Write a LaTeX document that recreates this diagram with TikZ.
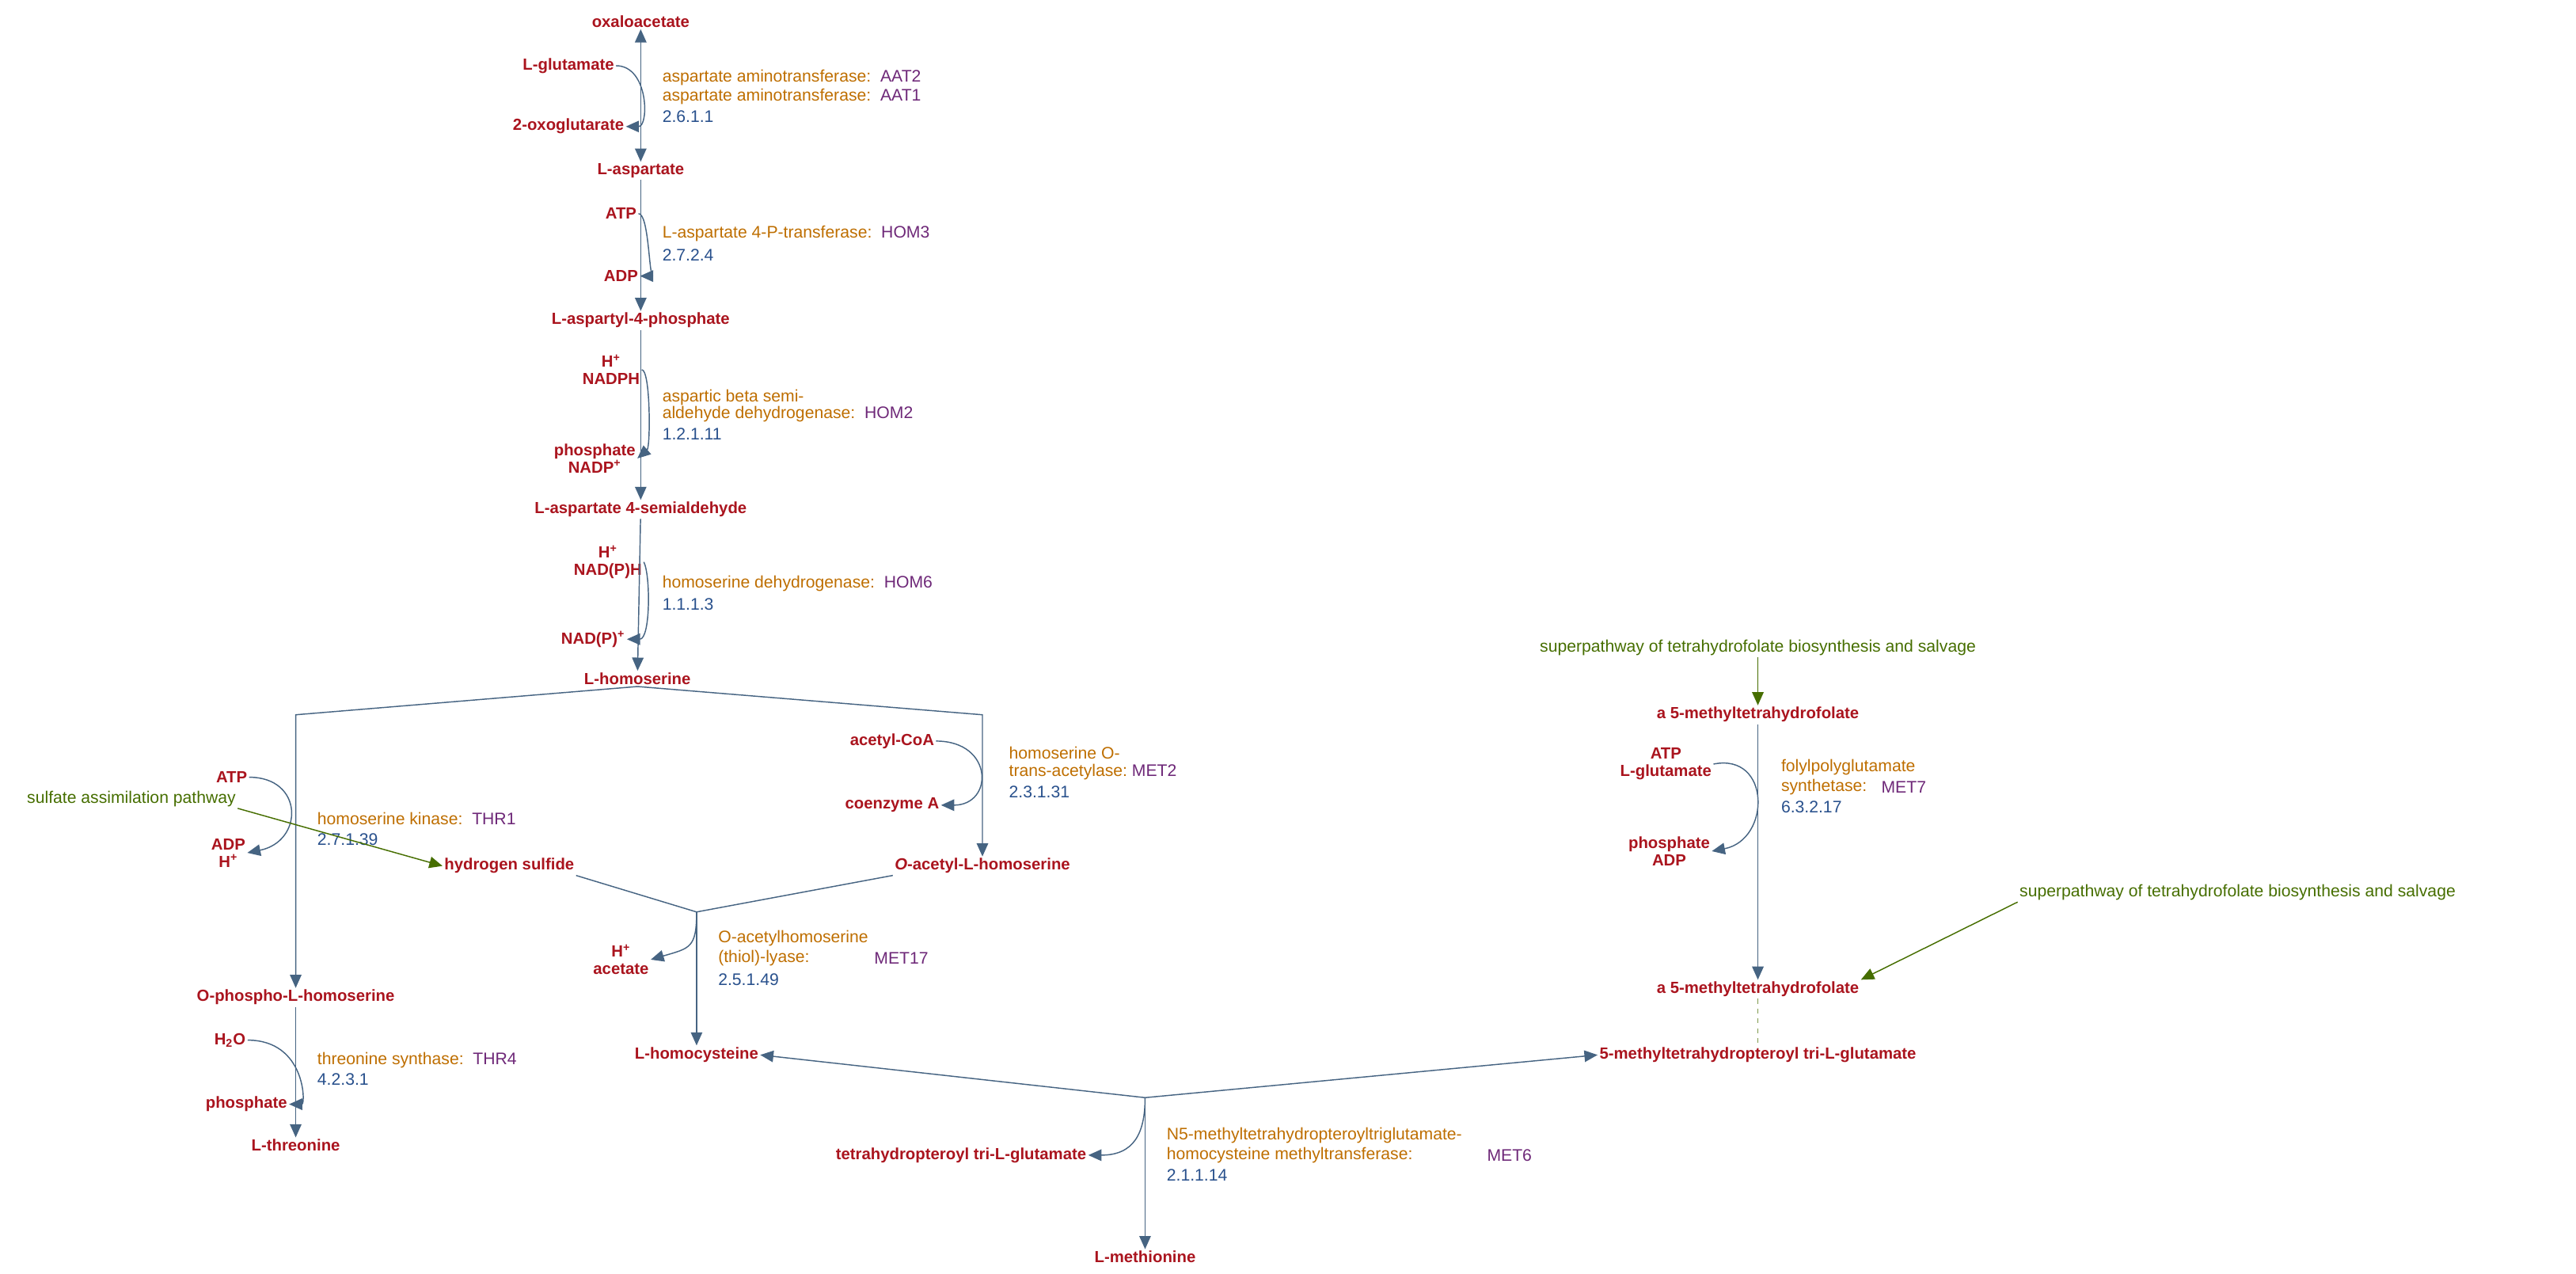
\documentclass[tikz,border=0pt]{standalone}
\usepackage{fontspec}
\setmainfont{Liberation Sans}
\usetikzlibrary{arrows.meta}
\definecolor{cpd}{RGB}{170,20,30}
\definecolor{enz}{RGB}{190,110,0}
\definecolor{gene}{RGB}{110,40,120}
\definecolor{ecn}{RGB}{40,80,140}
\definecolor{lnk}{RGB}{70,110,0}
\definecolor{rxn}{RGB}{70,100,130}
\newcommand{\gn}[1]{\textcolor{gene}{#1}}
\tikzset{
  cpd/.style={text=cpd,font=\fontsize{9.8}{10.6}\selectfont\bfseries,inner sep=1pt},
  enz/.style={text=enz,font=\fontsize{10.2}{12}\selectfont,anchor=west,inner sep=0pt,align=left},
  gene/.style={text=gene,font=\fontsize{10.2}{12}\selectfont,anchor=west,inner sep=0pt},
  ec/.style={text=ecn,font=\fontsize{10.2}{12}\selectfont,anchor=west,inner sep=0pt},
  lnk/.style={text=lnk,font=\fontsize{10.2}{12}\selectfont,inner sep=1pt},
  rx/.style={draw=rxn,line width=0.7pt},
  arr/.style={rx,-{Triangle[length=8pt,width=7pt]}},
  side/.style={rx,-{Triangle[length=8pt,width=7pt]}},
}
\begin{document}
\begin{tikzpicture}[x=1pt,y=-1pt]
\useasboundingbox (0,0) rectangle (1568,775);
% main chain
\node[cpd] (oaa) at (390,13) {oxaloacetate};
\node[cpd] (glu) at (346,40) {L-glutamate};
\node[cpd] (oxg) at (346,77) {2-oxoglutarate};
\node[cpd] (asp) at (390,104) {L-aspartate};
\node[cpd] (atp1) at (378,130) {ATP};
\node[cpd] (adp1) at (378,168) {ADP};
\node[cpd] (asp4p) at (390,195) {L-aspartyl-4-phosphate};
\node[cpd,align=center] (nadph) at (372,225) {H\textsuperscript{+}\\NADPH};
\node[cpd,align=center] (nadp) at (362,279) {phosphate\\NADP\textsuperscript{+}};
\node[cpd] (asa) at (390,310) {L-aspartate 4-semialdehyde};
\node[cpd,align=center] (nadh) at (370,342) {H\textsuperscript{+}\\NAD(P)H};
\node[cpd] (nad) at (361,389) {NAD(P)\textsuperscript{+}};
\node[cpd] (hser) at (388,413) {L-homoserine};

\draw[rx,{Triangle[length=8pt,width=7pt]}-{Triangle[length=8pt,width=7pt]}] (oaa) -- (asp);
\draw[arr] (asp) -- (asp4p);
\draw[arr] (asp4p) -- (asa);
\draw[arr] (asa) -- (hser);
\draw[side] (glu.east) .. controls (395,40) and (395,77) .. (oxg.east);
\draw[side] (atp1.east) .. controls (395,130) and (395,168) .. (adp1.east);
\draw[side] (nadph.east) .. controls (396,225) and (396,272) .. (nadp.east);
\draw[side] (nadh.east) .. controls (396,350) and (396,389) .. (nad.east);

\node[enz] at (403,47) {aspartate aminotransferase:~~\gn{AAT2}};
\node[enz] at (403,59) {aspartate aminotransferase:~~\gn{AAT1}};
\node[ec] at (403,71) {2.6.1.1};
\node[enz] at (403,142) {L-aspartate 4-P-transferase:~~\gn{HOM3}};
\node[ec] at (403,155) {2.7.2.4};
\node[enz] at (403,242) {aspartic beta semi-};
\node[enz] at (403,252) {aldehyde dehydrogenase:~~\gn{HOM2}};
\node[ec] at (403,264) {1.2.1.11};
\node[enz] at (403,355) {homoserine dehydrogenase:~~\gn{HOM6}};
\node[ec] at (403,368) {1.1.1.3};

% branches from homoserine
\coordinate (bl) at (180,435);
\coordinate (br) at (598,435);
\node[cpd] (phser) at (180,607) {O-phospho-L-homoserine};
\node[cpd] (oahs) at (598,527) {\textit{O}-acetyl-L-homoserine};
\draw[arr] (hser.south) -- (bl) -- (phser);
\draw[arr] (hser.south) -- (br) -- (oahs);

\node[cpd] (accoa) at (543,451) {acetyl-CoA};
\node[cpd] (coa) at (543,490) {coenzyme A};
\draw[side] (accoa.east) .. controls (605,451) and (605,490) .. (coa.east);
\node[enz] at (614,458) {homoserine O-};
\node[enz] at (614,470) {trans-acetylase:~\gn{MET2}};
\node[ec] at (614,482) {2.3.1.31};

\node[cpd] (atp2) at (141,473) {ATP};
\node[cpd,align=center] (adp2) at (139,519) {ADP\\H\textsuperscript{+}};
\draw[side] (atp2.east) .. controls (185,473) and (185,512) .. (adp2.east);
\node[enz] at (193,498) {homoserine kinase:~~\gn{THR1}};
\node[ec] at (193,511) {2.7.1.39};

\node[lnk] (sulf) at (80,486) {sulfate assimilation pathway};
\node[cpd] (h2s) at (310,527) {hydrogen sulfide};
\draw[rx,draw=lnk,-{Triangle[length=8pt,width=7pt]},fill=lnk] (sulf.south east) -- (h2s.west);

% homocysteine
\coordinate (jn1) at (424,555);
\node[cpd] (hcys) at (424,642) {L-homocysteine};
\draw[rx] (h2s.south east) -- (jn1);
\draw[rx] (oahs.south west) -- (jn1);
\draw[arr] (jn1) -- (hcys);
\node[cpd,align=center] (acet) at (378,584) {H\textsuperscript{+}\\acetate};
\draw[side] (jn1) .. controls (424,577) and (420,577) .. (acet.east);
\node[enz] at (437,571) {O-acetylhomoserine};
\node[enz] at (437,583) {(thiol)-lyase:};
\node[gene] at (532,583) {MET17};
\node[ec] at (437,596) {2.5.1.49};

% threonine
\node[cpd] (h2o) at (140,633) {H\textsubscript{2}O};
\node[cpd] (pi) at (150,672) {phosphate};
\node[cpd] (thr) at (180,697) {L-threonine};
\draw[arr] (phser) -- (thr);
\draw[side] (h2o.east) .. controls (186,633) and (186,672) .. (pi.east);
\node[enz] at (193,645) {threonine synthase:~~\gn{THR4}};
\node[ec] at (193,657) {4.2.3.1};

% methionine
\coordinate (jn2) at (697,668);
\node[cpd] (mthf3) at (1070,642) {5-methyltetrahydropteroyl tri-L-glutamate};
\node[cpd] (thf3) at (585,703) {tetrahydropteroyl tri-L-glutamate};
\node[cpd] (met) at (697,765) {L-methionine};
\draw[arr] (jn2) -- (hcys.east);
\draw[arr] (jn2) -- (mthf3.west);
\draw[arr] (jn2) -- (met);
\draw[side] (jn2) .. controls (697,690) and (690,703) .. (thf3.east);
\node[enz] at (710,691) {N5-methyltetrahydropteroyltriglutamate-};
\node[enz] at (710,703) {homocysteine methyltransferase:};
\node[gene] at (905,703) {MET6};
\node[ec] at (710,715) {2.1.1.14};

% folate branch
\node[lnk] (sup1) at (1070,394) {superpathway of tetrahydrofolate biosynthesis and salvage};
\node[cpd] (mthfa) at (1070,435) {a 5-methyltetrahydrofolate};
\node[cpd] (mthfb) at (1070,602) {a 5-methyltetrahydrofolate};
\node[lnk] (sup2) at (1362,543) {superpathway of tetrahydrofolate biosynthesis and salvage};
\draw[rx,draw=lnk,-{Triangle[length=8pt,width=7pt]}] (sup1) -- (mthfa);
\draw[rx,draw=lnk,-{Triangle[length=8pt,width=7pt]}] (sup2.south west) -- (mthfb.north east);
\draw[arr] (mthfa) -- (mthfb);
\draw[draw=lnk!70,dashed,line width=0.7pt] (mthfb) -- (mthf3);
\node[cpd,align=center] (atp3) at (1014,465) {ATP\\L-glutamate};
\node[cpd,align=center] (adp3) at (1016,518) {phosphate\\ADP};
\draw[side] (atp3.east) .. controls (1078,458) and (1078,511) .. (adp3.east);
\node[enz] at (1084,467) {folylpolyglutamate};
\node[enz] at (1084,479) {synthetase:};
\node[gene] at (1145,479) {MET7};
\node[ec] at (1084,491) {6.3.2.17};
\end{tikzpicture}
\end{document}
